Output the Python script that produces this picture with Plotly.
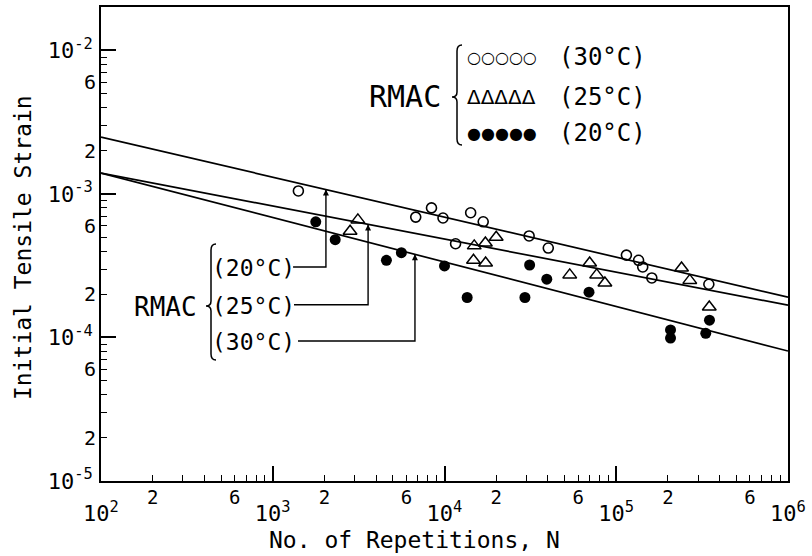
import numpy as np
import plotly.graph_objects as go

# ---------------- data ----------------
# RMAC 30 degC  (open circles)
N_30C = [1410, 6800, 8400, 9800, 11600, 14200, 16800, 31100, 40200,
         114600, 134900, 142600, 161100, 346000]
eps_30C = [1.05e-3, 6.9e-4, 8.0e-4, 6.8e-4, 4.5e-4, 7.4e-4, 6.4e-4, 5.1e-4, 4.2e-4,
           3.75e-4, 3.45e-4, 3.1e-4, 2.6e-4, 2.35e-4]
# RMAC 25 degC  (open triangles)
N_25C = [2820, 3130, 14750, 14900, 17300, 17350, 20000, 53600, 70000,
         76900, 85900, 240000, 268000, 348000]
eps_25C = [5.5e-4, 6.6e-4, 3.45e-4, 4.35e-4, 4.55e-4, 3.3e-4, 5.0e-4, 2.73e-4, 3.3e-4,
           2.73e-4, 2.4e-4, 3.05e-4, 2.5e-4, 1.63e-4]
# RMAC 20 degC  (filled circles)
N_20C = [1780, 2310, 4590, 5610, 10000, 13550, 29400, 31300, 39400,
         69400, 207000, 207000, 332000, 349000]
eps_20C = [6.4e-4, 4.8e-4, 3.45e-4, 3.9e-4, 3.15e-4, 1.9e-4, 1.9e-4, 3.2e-4, 2.55e-4,
           2.07e-4, 1.13e-4, 9.9e-5, 1.07e-4, 1.32e-4]

# fatigue lines: strain at N = 1e2 and at N = 1e6
line_N = [1e2, 1e6]
line_upper = [2.49e-3, 1.91e-4]
line_middle = [1.40e-3, 1.68e-4]
line_lower = [1.40e-3, 8.05e-5]

# leader labels (left block)
leader_labels = ["(20°C)", "(25°C)", "(30°C)"]
leader_lines = [line_upper, line_middle, line_lower]
leader_N_hit = [2040, 3590, 6730]        # where the leader meets its line
leader_N_start = [1313, 1330, 1403]      # start of horizontal leader
leader_eps = [3.10e-4, 1.69e-4, 9.46e-5]  # level of horizontal leader

legend_symbols = ["○○○○○", "ΔΔΔΔΔ", "●●●●●"]
legend_sizes = [16, 20, 16]
legend_labels = ["(30°C)", "(25°C)", "(20°C)"]

# tick labels
x_major = [1e2, 1e3, 1e4, 1e5, 1e6]
x_major_text = ["10<sup>2</sup>", "10<sup>3</sup>", "10<sup>4</sup>", "10<sup>5</sup>", "10<sup>6</sup>"]
x_lab = [2e2, 6e2, 2e3, 6e3, 2e4, 6e4, 2e5, 6e5]
x_lab_text = ["2", "6"] * 4
y_major = [1e-5, 1e-4, 1e-3, 1e-2]
y_major_text = ["10<sup>-5</sup>", "10<sup>-4</sup>", "10<sup>-3</sup>", "10<sup>-2</sup>"]
y_lab = [2e-5, 6e-5, 2e-4, 6e-4, 2e-3, 6e-3]
y_lab_text = ["2", "6"] * 3

# ---------------- layout helpers ----------------
W, H = 812, 556
ML, MR, MT, MB = 101, 24, 7, 75
PW = W - ML - MR
PH = H - MT - MB
FONT = "DejaVu Sans Mono"


def px(xp):
    return (xp - ML) / PW


def py(yp):
    return (H - MB - yp) / PH


def line_at(line, n):
    e0, e1 = line
    b = np.log10(e1 / e0) / 4.0
    return e0 * (n / 1e2) ** b


def minor_vals(decades, skip):
    out = []
    for d in decades:
        for k in range(2, 10):
            if k not in skip:
                out.append(k * d)
    return out


fig = go.Figure()

for ln in [line_upper, line_middle, line_lower]:
    fig.add_trace(go.Scatter(x=line_N, y=ln, mode="lines",
                             line=dict(color="black", width=1.7),
                             hoverinfo="skip", showlegend=False))

fig.add_trace(go.Scatter(x=N_30C, y=eps_30C, mode="markers", showlegend=False,
                         marker=dict(symbol="circle-open", size=10, color="black",
                                     line=dict(width=1.6, color="black"))))
fig.add_trace(go.Scatter(x=N_25C, y=eps_25C, mode="markers", showlegend=False,
                         marker=dict(symbol="triangle-up-open", size=12, color="black",
                                     line=dict(width=1.5, color="black"))))
fig.add_trace(go.Scatter(x=N_20C, y=eps_20C, mode="markers", showlegend=False,
                         marker=dict(symbol="circle", size=11, color="black")))

annotations = []
hit_eps = []
for lab, ln, nh, ns, eh, ty in zip(leader_labels, leader_lines, leader_N_hit,
                                   leader_N_start, leader_eps, [268, 306, 342]):
    e_hit = line_at(ln, nh)
    hit_eps.append(e_hit)
    fig.add_trace(go.Scatter(x=[ns, nh, nh], y=[eh, eh, e_hit], mode="lines",
                             line=dict(color="black", width=1.4),
                             hoverinfo="skip", showlegend=False))
    annotations.append(dict(x=px(210), y=py(ty), xref="paper", yref="paper",
                            text=lab, showarrow=False, xanchor="left",
                            yanchor="middle", font=dict(size=23, family=FONT)))

# arrowheads where the leaders meet the lines
fig.add_trace(go.Scatter(x=leader_N_hit, y=hit_eps, mode="markers", showlegend=False,
                         hoverinfo="skip",
                         marker=dict(symbol="arrow-up", size=6, color="black",
                                     line=dict(width=0))))

# empty trace so the overlay axes exist
fig.add_trace(go.Scatter(x=[], y=[], xaxis="x2", yaxis="y2", showlegend=False))

annotations.append(dict(x=px(199), y=py(307), xref="paper", yref="paper", text="RMAC",
                        showarrow=False, xanchor="right", yanchor="middle",
                        font=dict(size=26, family=FONT)))
annotations.append(dict(x=px(443), y=py(96), xref="paper", yref="paper", text="RMAC",
                        showarrow=False, xanchor="right", yanchor="middle",
                        font=dict(size=30, family=FONT)))
for sym, fs, lab, ty in zip(legend_symbols, legend_sizes, legend_labels, [57, 97, 133]):
    annotations.append(dict(x=px(465), y=py(ty), xref="paper", yref="paper", text=sym,
                            showarrow=False, xanchor="left", yanchor="middle",
                            font=dict(size=fs, family="DejaVu Sans")))
    annotations.append(dict(x=px(557), y=py(ty), xref="paper", yref="paper", text=lab,
                            showarrow=False, xanchor="left", yanchor="middle",
                            font=dict(size=24, family=FONT)))

annotations.append(dict(x=px(414), y=(H - MB - 540) / PH, xref="paper", yref="paper",
                        text="No. of Repetitions, N", showarrow=False,
                        xanchor="center", yanchor="middle", font=dict(size=23, family=FONT)))
annotations.append(dict(x=px(23), y=py(248), xref="paper", yref="paper",
                        text="Initial Tensile Strain", showarrow=False, textangle=-90,
                        xanchor="center", yanchor="middle", font=dict(size=23, family=FONT)))


def brace(xc, ytop, ybot, ytip, tipx):
    pts = (f"M {px(xc + 5)},{py(ytop)} Q {px(xc)},{py(ytop)} {px(xc)},{py(ytop + 6)} "
           f"L {px(xc)},{py(ytip - 5)} Q {px(xc)},{py(ytip)} {px(tipx)},{py(ytip)} "
           f"Q {px(xc)},{py(ytip)} {px(xc)},{py(ytip + 5)} "
           f"L {px(xc)},{py(ybot - 6)} Q {px(xc)},{py(ybot)} {px(xc + 5)},{py(ybot)}")
    return dict(type="path", xref="paper", yref="paper", path=pts,
                line=dict(color="black", width=1.5))


shapes = [brace(457, 45, 145, 97, 452), brace(211, 244, 360, 306, 206)]

axis_common = dict(type="log", showgrid=False, zeroline=False, ticks="inside",
                   tickcolor="black", color="black")

fig.update_layout(
    width=W, height=H,
    margin=dict(l=ML, r=MR, t=MT, b=MB, autoexpand=False),
    paper_bgcolor="white", plot_bgcolor="white",
    font=dict(family=FONT, color="black"),
    showlegend=False,
    xaxis=dict(**axis_common, range=[2, 6], tickmode="array", tickvals=x_major,
               ticktext=x_major_text, ticklen=15, tickwidth=1.5,
               showline=True, linecolor="black", linewidth=1.8, mirror=True,
               tickfont=dict(size=22, family=FONT), ticklabelstandoff=12,
               minor=dict(tickmode="array", tickvals=minor_vals([1e2, 1e3, 1e4, 1e5], [2, 6]),
                          ticks="inside", ticklen=6, tickwidth=1.2, tickcolor="black")),
    xaxis2=dict(**axis_common, range=[2, 6], overlaying="x", anchor="y", side="bottom",
                tickmode="array", tickvals=x_lab, ticktext=x_lab_text,
                ticklen=6, tickwidth=1.2, showline=False,
                tickfont=dict(size=19, family=FONT), ticklabelstandoff=3),
    yaxis=dict(**axis_common, range=[-5, -1.697], tickmode="array", tickvals=y_major,
               ticktext=y_major_text, ticklen=15, tickwidth=1.5,
               showline=True, linecolor="black", linewidth=1.8, mirror=True,
               tickfont=dict(size=22, family=FONT), ticklabelstandoff=2,
               minor=dict(tickmode="array", tickvals=minor_vals([1e-5, 1e-4, 1e-3], [2, 6]),
                          ticks="inside", ticklen=6, tickwidth=1.2, tickcolor="black")),
    yaxis2=dict(**axis_common, range=[-5, -1.697], overlaying="y", anchor="x", side="left",
                tickmode="array", tickvals=y_lab, ticktext=y_lab_text,
                ticklen=6, tickwidth=1.2, showline=False,
                tickfont=dict(size=20, family=FONT), ticklabelstandoff=4),
    annotations=annotations,
    shapes=shapes,
)

fig.write_html("out.html")
